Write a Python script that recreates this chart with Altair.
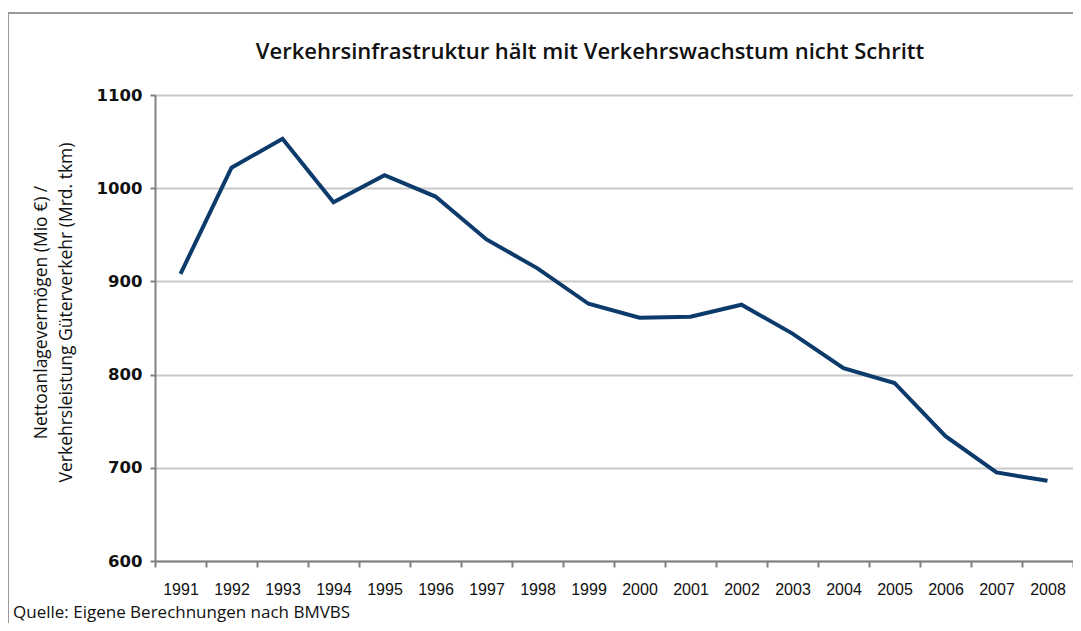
import altair as alt
import pandas as pd

years = [str(y) for y in range(1991, 2009)]
values = [908, 1022, 1053, 985, 1014, 991, 945, 914, 876, 861, 862, 875, 844, 807, 791, 734, 695, 686]
title_text = "Verkehrsinfrastruktur hält mit Verkehrswachstum nicht Schritt"
y_title = ["Nettoanlagevermögen (Mio €) /", "Verkehrsleistung Güterverkehr (Mrd. tkm)"]
source_text = "Quelle: Eigene Berechnungen nach BMVBS"

df = pd.DataFrame({"Jahr": years, "Wert": values})
one = pd.DataFrame({"k": [0]})

W, H = 918, 466

line = alt.Chart(df).mark_line(color="#0b3a6b", strokeWidth=4, strokeJoin="miter").encode(
    x=alt.X("Jahr:O", scale=alt.Scale(type="band", paddingInner=0, paddingOuter=0),
            bandPosition=0.5,
            axis=alt.Axis(title=None, labelAngle=0, tickBand="extent", tickSize=6,
                          labelPadding=14, labelFontSize=16, labelFont="Liberation Sans",
                          labelColor="#111", domainColor="#808080", domainWidth=2,
                          tickColor="#808080", tickWidth=2, grid=False)),
    y=alt.Y("Wert:Q", scale=alt.Scale(domain=[600, 1100], nice=False, zero=False),
            axis=alt.Axis(values=[600, 700, 800, 900, 1000, 1100], format="d",
                          title=y_title,
                          titleFont="Open Sans", titleFontSize=17.5, titleFontWeight="normal",
                          titleColor="#111", titleLineHeight=25,
                          titleX=-114, titleY=217, titleBaseline="middle", titleAngle=270,
                          labelFont="DejaVu Sans", labelFontSize=16.5, labelFontWeight="bold",
                          labelColor="#111", labelPadding=8, tickSize=5,
                          tickColor="#808080", tickWidth=2, domainColor="#808080", domainWidth=2,
                          gridColor="#c8c8c8", gridWidth=2)),
)

deco = alt.Chart(one)

frame_left = deco.mark_rule(color="#9a9a9a", strokeWidth=2).encode(
    x=alt.value(-147), y=alt.value(-82), y2=alt.value(H + 70))
frame_top = deco.mark_rule(color="#9a9a9a", strokeWidth=2).encode(
    x=alt.value(-147), x2=alt.value(W + 10), y=alt.value(-82))

title = deco.mark_text(align="center", baseline="alphabetic", font="Open Sans",
                       fontSize=22, fontWeight=600, color="#111").encode(
    text=alt.value(title_text), x=alt.value(435), y=alt.value(-36))

source = deco.mark_text(align="left", baseline="alphabetic", font="Open Sans",
                        fontSize=17, color="#111").encode(
    text=alt.value(source_text), x=alt.value(-142), y=alt.value(H + 57))

chart = alt.layer(frame_left, frame_top, line, title, source).properties(
    width=W, height=H,
    autosize=alt.AutoSizeParams(type="none"),
    padding={"left": 147, "top": 87, "right": 0, "bottom": 62},
).configure_view(stroke="#808080", strokeWidth=2).configure(background="white")

chart.save("out.html", embed_options={"renderer": "svg", "actions": False})
